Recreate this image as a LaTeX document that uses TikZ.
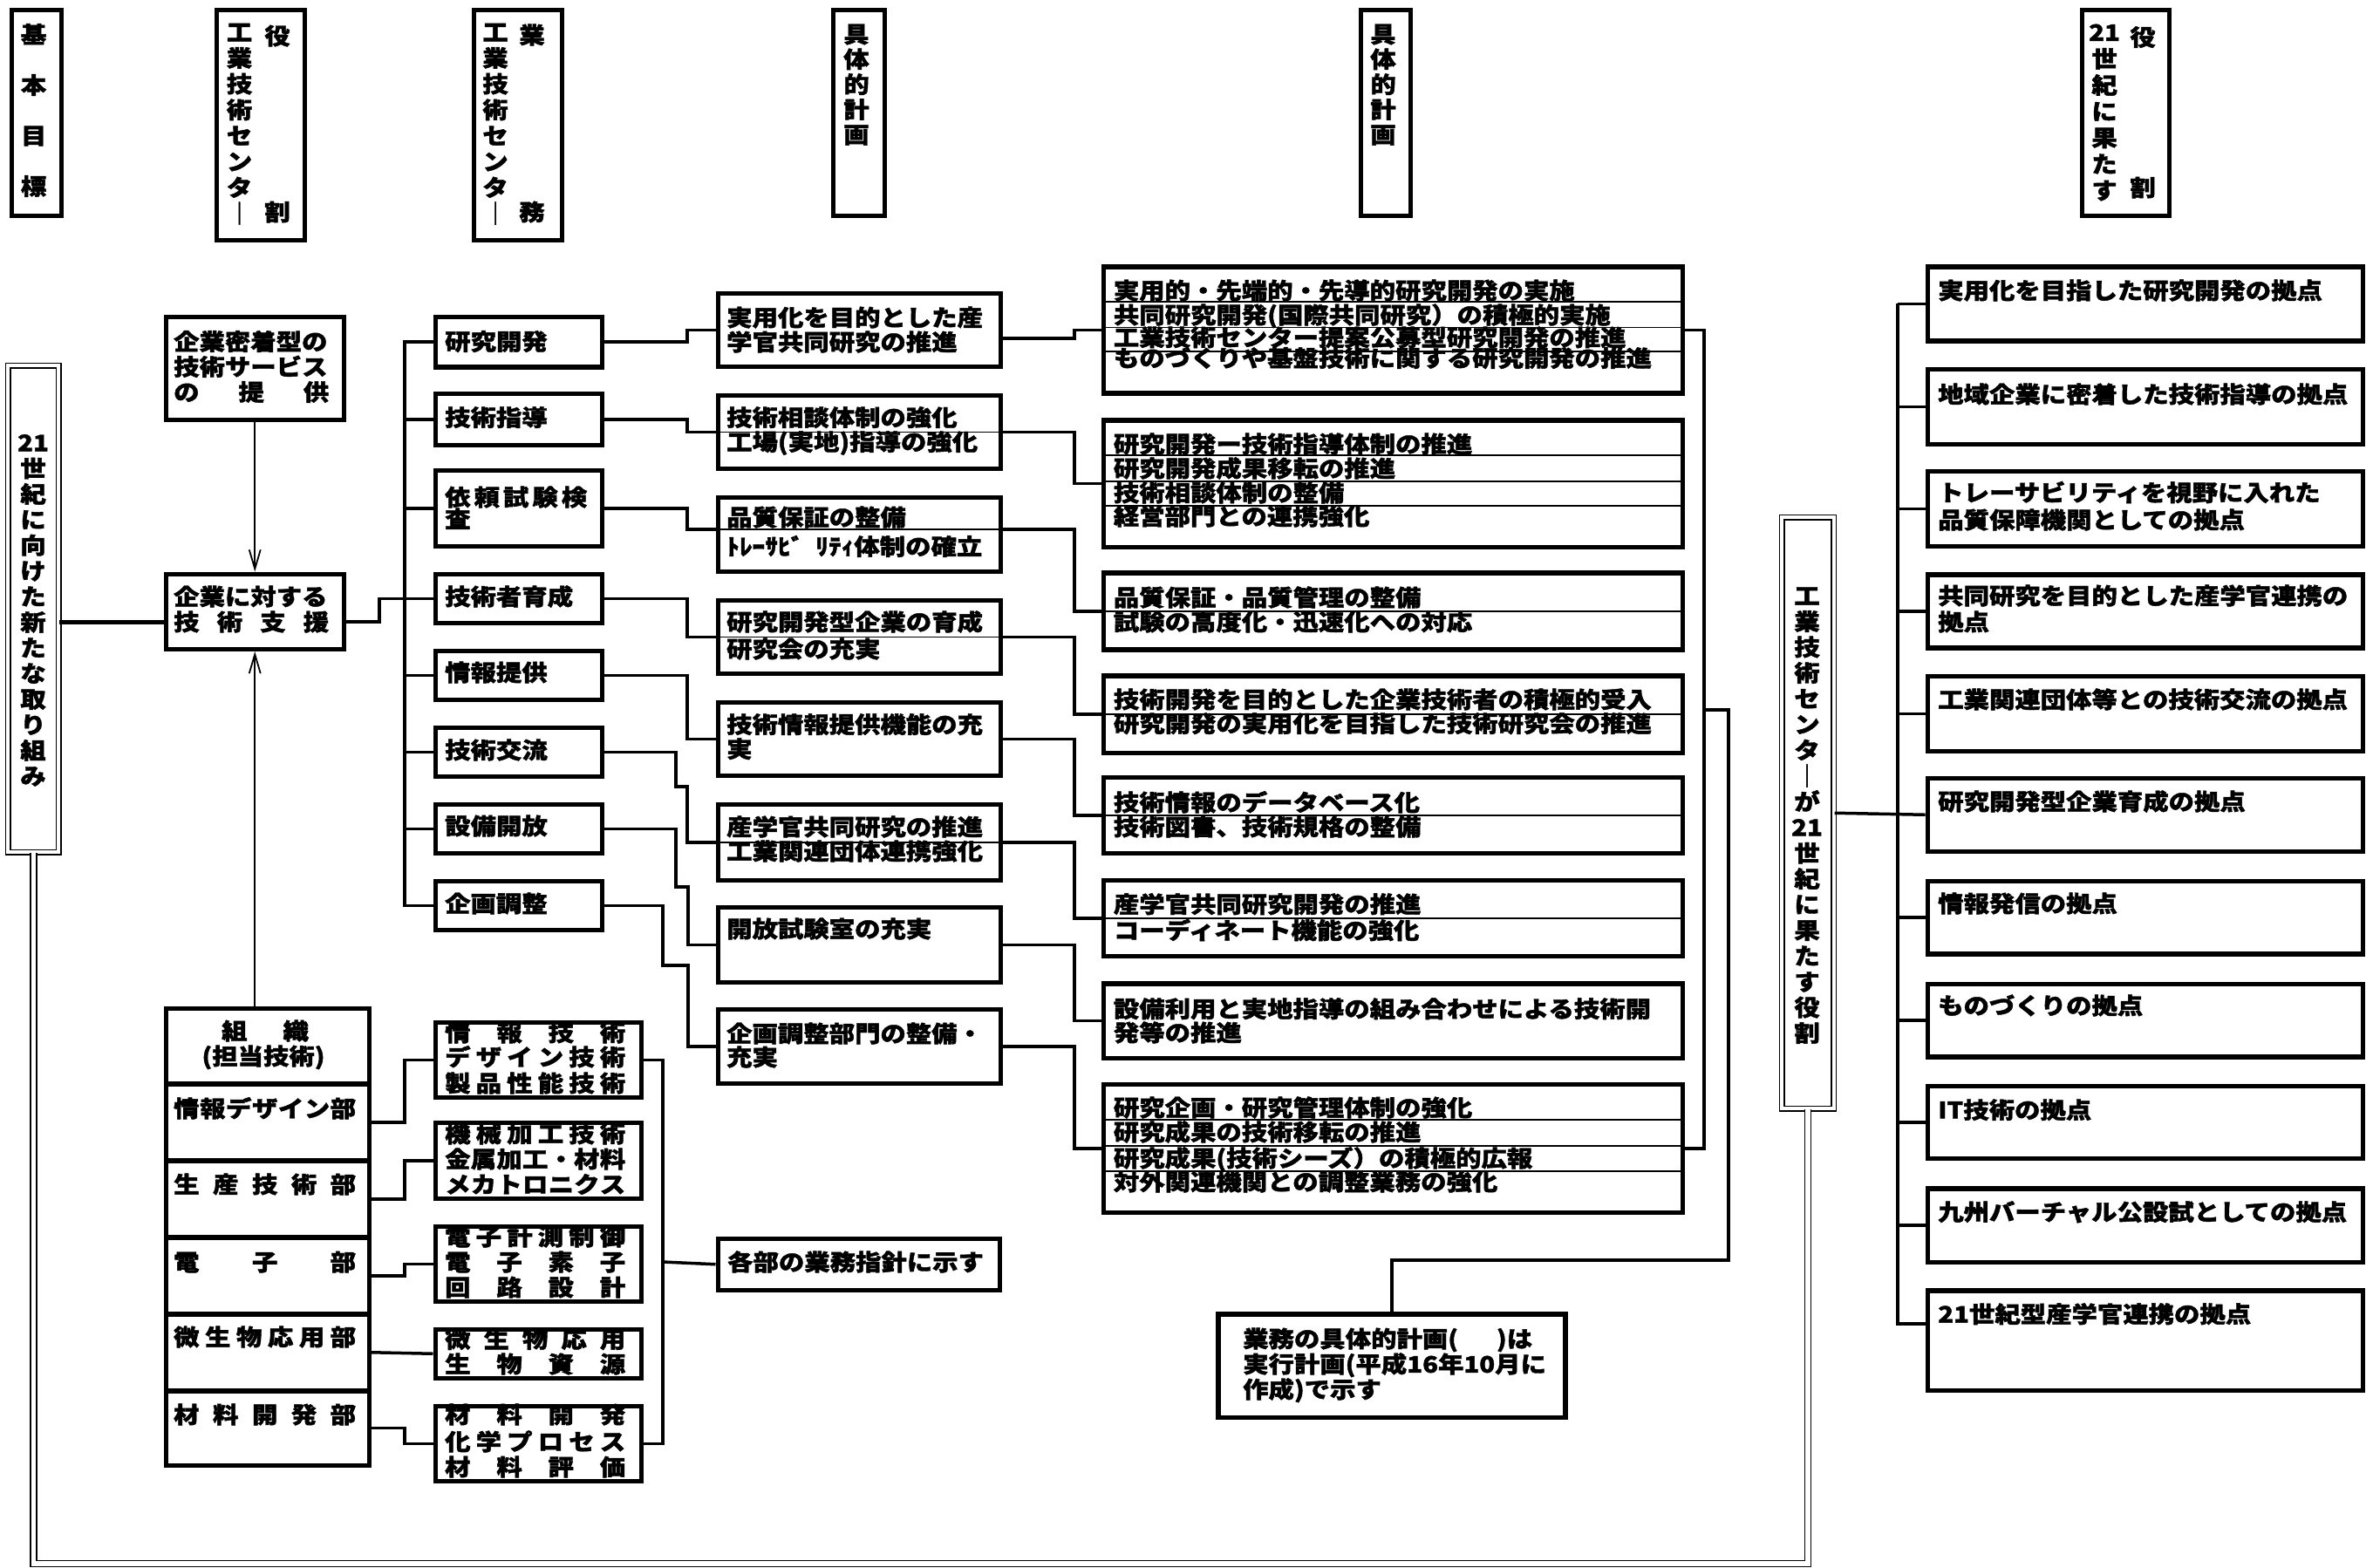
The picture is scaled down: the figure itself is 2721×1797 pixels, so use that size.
\documentclass[tikz,border=0pt]{standalone}
\usepackage{fontspec}
\usetikzlibrary{arrows.meta}
\newfontfamily\jpf{Noto Sans CJK JP}[FakeStretch=1.13,BoldFeatures={FakeBold=1.6}]
\newcommand{\jtxt}{\jpf\bfseries\fontsize{26}{29}\selectfont}
\newcommand{\sw}[2]{\makebox[#1pt][s]{#2}}
\newcommand{\bx}[6][]{%
  \pgfmathsetmacro\bxa{#3+2.5}\pgfmathsetmacro\bxb{#4+2.5}%
  \pgfmathsetmacro\bxw{#5-#3-5}\pgfmathsetmacro\bxh{#6-#4-5}%
  \node[frm,#1,minimum width=\bxw pt,minimum height=\bxh pt] (#2) at (\bxa,\bxb) {};}
\newcommand{\tx}[4]{\node[txt] (#1) at (#2,#3) {#4};}
\newcommand{\vt}[5]{\foreach \c [count=\i] in {#5} {\node[ctxt] (#1-\i) at (#2,{#3+(\i-1)*#4}) {\c};}}
\begin{document}
\begin{tikzpicture}[x=1pt,y=-1pt,
  frm/.style={draw,line width=5.5pt,inner sep=0pt,anchor=north west,rectangle},
  dframe/.style={draw,double,double distance=4pt,line width=1.5pt,inner sep=0pt,anchor=north west,rectangle},
  txt/.style={anchor=west,inner sep=0pt,font=\jtxt,text height=21.6pt,text depth=1.8pt},
  ctxt/.style={txt,anchor=center},
  conn/.style={line width=3.5pt},
  thickc/.style={line width=5pt},
  innerl/.style={line width=1.5pt},
  arr/.style={line width=1.8pt,-{Straight Barb[length=22pt,width=13pt]}},
  dbl/.style={double,double distance=5.5pt,line width=1.5pt}]
\fill[white] (0,0) rectangle (2721,1797);
\useasboundingbox (0,0) rectangle (2721,1797);

% ---------- header boxes ----------
\bx{h1}{8}{6}{70}{247}
\vt{h1t}{38.6}{39.5}{58}{基,本,目,標}
\bx{h2}{243}{6}{349}{275}
\vt{h2a}{274.5}{36.7}{29.7}{工,業,技,術,セ,ン,タ,｜}
\node[ctxt] (h2b) at (318,41) {役};
\node[ctxt] (h2c) at (318,243) {割};
\bx{h3}{538}{6}{644}{275}
\vt{h3a}{568}{36.7}{29.7}{工,業,技,術,セ,ン,タ,｜}
\node[ctxt] (h3b) at (610,40) {業};
\node[ctxt] (h3c) at (610,243) {務};
\bx{h4}{950}{6}{1014}{247}
\vt{h4t}{982}{39}{28.8}{具,体,的,計,画}
\bx{h5}{1555}{6}{1617}{247}
\vt{h5t}{1586}{39}{28.8}{具,体,的,計,画}
\bx{h6}{2382}{6}{2487}{247}
\vt{h6a}{2413}{37}{30.2}{21,世,紀,に,果,た,す}
\node[ctxt] (h6b) at (2457,42.5) {役};
\node[ctxt] (h6c) at (2457,215) {割};

% ---------- left column ----------
\bx[dframe]{L}{6}{416}{69}{979}
\vt{Lt}{38}{507.5}{29.4}{21,世,紀,に,向,け,た,新,た,な,取,り,組,み}
\bx{kd}{185}{358}{394}{481}
\tx{kd1}{199}{391.5}{\sw{178}{企業密着型の}}
\tx{kd2}{199}{420.5}{\sw{178}{技術サービス}}
\tx{kd3}{199}{449.5}{\sw{178}{の\hfill 提\hfill 供}}
\bx{ks}{185}{653}{394}{744}
\tx{ks1}{199}{684}{\sw{178}{企業に対する}}
\tx{ks2}{199}{713}{\sw{178}{技\hfill 術\hfill 支\hfill 援}}

% ---------- 業務 boxes ----------
\bx{g1}{494}{358}{690}{420.5}
\tx{g1t}{510}{391.5}{研究開発}
\bx{g2}{494}{446}{690}{510}
\tx{g2t}{510}{478.6}{技術指導}
\bx{g3}{494}{534}{690}{626}
\tx{g3t}{510}{570}{\sw{163}{依\hfill 頼\hfill 試\hfill 験\hfill 検}}
\tx{g3u}{510}{595}{査}
\bx{g4}{494}{653}{690}{714}
\tx{g4t}{510}{684}{技術者育成}
\bx{g5}{494}{741}{690}{802}
\tx{g5t}{510}{771}{情報提供}
\bx{g6}{494}{829}{690}{890}
\tx{g6t}{510}{860}{技術交流}
\bx{g7}{494}{917}{690}{978}
\tx{g7t}{510}{947}{設備開放}
\bx{g8}{494}{1005}{690}{1066}
\tx{g8t}{510}{1036}{企画調整}

% ---------- 具体的計画 (1) ----------
\bx{jA}{818}{331}{1147}{420}
\tx{jA1}{833}{364}{実用化を目的とした産}
\tx{jA2}{833}{392}{学官共同研究の推進}
\bx{jB}{818}{448}{1147}{537}
\tx{jB1}{833}{478.6}{技術相談体制の強化}
\tx{jB2}{833}{506.6}{工場(実地)指導の強化}
\bx{jC}{818}{565}{1147}{655}
\tx{jC1}{833}{593}{品質保証の整備}
\tx{jC2}{833}{626.5}{ﾄﾚｰｻﾋﾞ\hspace{14pt}ﾘﾃｨ体制の確立}
\bx{jD}{818}{683}{1147}{772}
\tx{jD1}{833}{713}{研究開発型企業の育成}
\tx{jD2}{833}{744}{研究会の充実}
\bx{jE}{818}{800}{1147}{889}
\tx{jE1}{833}{830.6}{技術情報提供機能の充}
\tx{jE2}{833}{858.7}{実}
\bx{jF}{818}{917}{1147}{1009}
\tx{jF1}{833}{948}{産学官共同研究の推進}
\tx{jF2}{833}{976}{工業関連団体連携強化}
\bx{jG}{818}{1035}{1147}{1126}
\tx{jG1}{833}{1065}{開放試験室の充実}
\bx{jH}{818}{1152}{1147}{1242}
\tx{jH1}{833}{1185}{企画調整部門の整備・}
\tx{jH2}{833}{1212}{充実}

% ---------- 具体的計画 (2) ----------
\bx{d1}{1260}{300.6}{1929}{450.8}
\tx{d1a}{1276.7}{333}{実用的・先端的・先導的研究開発の実施}
\tx{d1b}{1276.7}{361}{共同研究開発(国際共同研究）の積極的実施}
\tx{d1c}{1276.7}{386.8}{工業技術センター提案公募型研究開発の推進}
\tx{d1d}{1276.7}{410.5}{ものづくりや基盤技術に関する研究開発の推進}
\bx{d2}{1260}{476.5}{1929}{627}
\tx{d2a}{1276.7}{509}{研究開発ー技術指導体制の推進}
\tx{d2b}{1276.7}{537}{研究開発成果移転の推進}
\tx{d2c}{1276.7}{565}{技術相談体制の整備}
\tx{d2d}{1276.7}{592}{経営部門との連携強化}
\bx{d3}{1260}{651.7}{1929}{744.6}
\tx{d3a}{1276.7}{685}{品質保証・品質管理の整備}
\tx{d3b}{1276.7}{713}{試験の高度化・迅速化への対応}
\bx{d4}{1260}{769.5}{1929}{863}
\tx{d4a}{1276.7}{802}{技術開発を目的とした企業技術者の積極的受入}
\tx{d4b}{1276.7}{829.6}{研究開発の実用化を目指した技術研究会の推進}
\bx{d5}{1260}{886}{1929}{978}
\tx{d5a}{1276.7}{920}{技術情報のデータベース化}
\tx{d5b}{1276.7}{948}{技術図書、技術規格の整備}
\bx{d6}{1260}{1004}{1929}{1096}
\tx{d6a}{1276.7}{1036.7}{産学官共同研究開発の推進}
\tx{d6b}{1276.7}{1066.7}{コーディネート機能の強化}
\bx{d7}{1260}{1122.7}{1929}{1213}
\tx{d7a}{1276.7}{1156.7}{設備利用と実地指導の組み合わせによる技術開}
\tx{d7b}{1276.7}{1184}{発等の推進}
\bx{d8}{1260}{1238}{1929}{1390}
\tx{d8a}{1276.7}{1270}{研究企画・研究管理体制の強化}
\tx{d8b}{1276.7}{1298}{研究成果の技術移転の推進}
\tx{d8c}{1276.7}{1328}{研究成果(技術シーズ）の積極的広報}
\tx{d8d}{1276.7}{1355}{対外関連機関との調整業務の強化}

% ---------- note box ----------
\bx{kk}{1391.5}{1501.7}{1794.6}{1625}
\tx{kk1}{1425}{1535}{業務の具体的計画(\hspace{44pt})は}
\tx{kk2}{1425}{1564}{実行計画(平成16年10月に}
\tx{kk3}{1425}{1593}{作成)で示す}

% ---------- right column ----------
\bx[dframe]{R}{2040}{590}{2104.7}{1273}
\vt{Rt}{2072}{683}{29.5}{工,業,技,術,セ,ン,タ,｜,が,21,世,紀,に,果,た,す,役,割}
\bx{r1}{2205}{300.6}{2709}{390.7}
\tx{r1t}{2222}{333}{実用化を目指した研究開発の拠点}
\bx{r2}{2205}{418}{2709}{509}
\tx{r2t}{2222}{452}{地域企業に密着した技術指導の拠点}
\bx{r3}{2205}{535}{2709}{626}
\tx{r3a}{2222}{564.7}{トレーサビリティを視野に入れた}
\tx{r3b}{2222}{596}{品質保障機関としての拠点}
\bx{r4}{2205}{653.7}{2709}{742.6}
\tx{r4a}{2222}{683}{共同研究を目的とした産学官連携の}
\tx{r4b}{2222}{713}{拠点}
\bx{r5}{2205}{770}{2709}{861}
\tx{r5t}{2222}{802}{工業関連団体等との技術交流の拠点}
\bx{r6}{2205}{887}{2709}{976}
\tx{r6t}{2222}{919}{研究開発型企業育成の拠点}
\bx{r7}{2205}{1005}{2709}{1093.5}
\tx{r7t}{2222}{1036}{情報発信の拠点}
\bx{r8}{2205}{1123}{2709}{1211.5}
\tx{r8t}{2222}{1153}{ものづくりの拠点}
\bx{r9}{2205}{1240}{2709}{1328}
\tx{r9t}{2222}{1272.6}{IT技術の拠点}
\bx{r10}{2205}{1357.5}{2709}{1447}
\tx{r10t}{2222}{1389.6}{九州バーチャル公設試としての拠点}
\bx{r11}{2205}{1474.6}{2709}{1594}
\tx{r11t}{2222}{1506.7}{21世紀型産学官連携の拠点}

% ---------- organisation ----------
\bx{o0}{185}{1151}{423}{1242.5}
\node[ctxt] (o0a) at (304,1182) {組\hspace{41pt}織};
\node[ctxt] (o0b) at (302,1211) {(担当技術)};
\bx{o1}{185}{1237.5}{423}{1330.5}
\tx{o1t}{199}{1271}{\sw{209}{情\hfill 報\hfill デ\hfill ザ\hfill イ\hfill ン\hfill 部}}
\bx{o2}{185}{1325.5}{423}{1418.5}
\tx{o2t}{199}{1358}{\sw{209}{生\hfill 産\hfill 技\hfill 術\hfill 部}}
\bx{o3}{185}{1413.5}{423}{1506.5}
\tx{o3t}{199}{1447}{\sw{209}{電\hfill 子\hfill 部}}
\bx{o4}{185}{1501.5}{423}{1594.5}
\tx{o4t}{199}{1533}{\sw{209}{微\hfill 生\hfill 物\hfill 応\hfill 用\hfill 部}}
\bx{o5}{185}{1589.5}{423}{1680}
\tx{o5t}{199}{1622}{\sw{209}{材\hfill 料\hfill 開\hfill 発\hfill 部}}

\bx{s1}{494}{1167}{735}{1258}
\tx{s1a}{510}{1184}{\sw{207}{情\hfill 報\hfill 技\hfill 術}}
\tx{s1b}{510}{1212}{\sw{207}{デ\hfill ザ\hfill イ\hfill ン\hfill 技\hfill 術}}
\tx{s1c}{510}{1242}{\sw{207}{製\hfill 品\hfill 性\hfill 能\hfill 技\hfill 術}}
\bx{s2}{494}{1282}{735}{1374}
\tx{s2a}{510}{1300}{\sw{207}{機\hfill 械\hfill 加\hfill 工\hfill 技\hfill 術}}
\tx{s2b}{510}{1329}{\sw{207}{金\hfill 属\hfill 加\hfill 工\hfill ・\hfill 材\hfill 料}}
\tx{s2c}{510}{1358}{\sw{207}{メ\hfill カ\hfill ト\hfill ロ\hfill ニ\hfill ク\hfill ス}}
\bx{s3}{494}{1401}{735}{1492}
\tx{s3a}{510}{1418}{\sw{207}{電\hfill 子\hfill 計\hfill 測\hfill 制\hfill 御}}
\tx{s3b}{510}{1447}{\sw{207}{電\hfill 子\hfill 素\hfill 子}}
\tx{s3c}{510}{1476}{\sw{207}{回\hfill 路\hfill 設\hfill 計}}
\bx{s4}{494}{1519}{735}{1580}
\tx{s4a}{510}{1535.6}{\sw{207}{微\hfill 生\hfill 物\hfill 応\hfill 用}}
\tx{s4b}{510}{1564}{\sw{207}{生\hfill 物\hfill 資\hfill 源}}
\bx{s5}{494}{1607}{735}{1698}
\tx{s5a}{510}{1622}{\sw{207}{材\hfill 料\hfill 開\hfill 発}}
\tx{s5b}{510}{1653}{\sw{207}{化\hfill 学\hfill プ\hfill ロ\hfill セ\hfill ス}}
\tx{s5c}{510}{1682}{\sw{207}{材\hfill 料\hfill 評\hfill 価}}

\bx{kb}{818}{1415}{1146}{1479}
\tx{kbt}{834}{1447}{各部の業務指針に示す}

% ---------- connectors ----------
\draw[thickc] (L.east |- 0,713) -- (ks.west |- 0,713);
\draw[conn] (ks.east |- 0,713) -- (435,713) |- (g4.west);
\draw[conn] (g1.west) -- (g1.west -| 464,0) -- (g8.west -| 464,0) -- (g8.west);
\foreach \g in {g2,g3,g5,g6,g7} \draw[conn] (\g.west -| 464,0) -- (\g.west);
\draw[arr] (kd.south) -- (ks.north);
\draw[arr] (ks.south |- o0.north) -- (ks.south);

\draw[conn] (g1.east) -- (g1.east -| 788,0) |- (jA.west);
\draw[conn] (g2.east) -- (g2.east -| 788,0) |- (jB.west);
\draw[conn] (g3.east) -- (g3.east -| 788,0) |- (jC.west |- 0,607);
\draw[conn] (g4.east) -- (g4.east -| 788,0) |- (jD.west);
\draw[conn] (g5.east) -- (g5.east -| 788,0) |- (jE.west);
\draw[conn] (g6.east) -- (g6.east -| 775,0) -- (775,902) -- (788,902) |- (jF.west);
\draw[conn] (g7.east) -- (g7.east -| 775,0) -- (775,1017) -- (789,1017) |- (jG.west);
\draw[conn] (g8.east) -- (g8.east -| 760,0) -- (760,1107) -- (789,1107) |- (jH.west);

\draw[conn] (jA.east |- 0,388) -- (1232,388) |- (d1.west);
\draw[conn] (jB.east) -- (jB.east -| 1232,0) |- (d2.west);
\draw[conn] (jC.east |- 0,607) -- (1232,607) |- (d3.west);
\draw[conn] (jD.east) -- (jD.east -| 1232,0) |- (d4.west);
\draw[conn] (jE.east) -- (jE.east -| 1232,0) |- (d5.west);
\draw[conn] (jF.east) -- (jF.east -| 1232,0) |- (d6.west);
\draw[conn] (jG.east) -- (jG.east -| 1232,0) |- (d7.west);
\draw[conn] (jH.east) -- (jH.east -| 1232,0) |- (d8.west);

% lines passing through boxes
\draw[innerl] (jB.west) -- (jB.east);
\draw[innerl] (jC.west |- 0,607) -- (jC.east |- 0,607);
\draw[innerl] (jD.west) -- (jD.east);
\draw[innerl] (jF.west) -- (jF.east);
\foreach \yy in {346,375.7,403} \draw[innerl] (d1.west |- 0,\yy) -- (d1.east |- 0,\yy);
\foreach \yy in {522,551.75,580} \draw[innerl] (d2.west |- 0,\yy) -- (d2.east |- 0,\yy);
\foreach \dd in {d3,d4,d5,d6} \draw[innerl] (\dd.west) -- (\dd.east);
\foreach \yy in {1284,1314,1343} \draw[innerl] (d8.west |- 0,\yy) -- (d8.east |- 0,\yy);

\draw[conn] (d1.east) -- (d1.east -| 1954,0) -- (d8.east -| 1954,0) -- (d8.east);
\draw[conn] (1954,814) -- (1982,814) -- (1982,1445) -| (kk.north);

\draw[conn] (R.east) -- (r6.west);
\draw[conn] (r1.west -| 2176,0) -- (2176,1518) -- (r11.west |- 0,1518);
\foreach \r in {r1,r2,r3,r4,r5,r7,r8,r9,r10} \draw[conn] (\r.west -| 2176,0) -- (\r.west);

\draw[conn] (o1.east) -- (o1.east -| 464,0) |- (s1.west);
\draw[conn] (o2.east) -- (o2.east -| 464,0) |- (s2.west);
\draw[conn] (o3.east) -- (o3.east -| 464,0) |- (s3.west);
\draw[conn] (o4.east) -- (s4.west);
\draw[conn] (o5.east) -- (o5.east -| 464,0) |- (s5.west);
\draw[conn] (s1.east) -- (s1.east -| 760,0) -- (s5.east -| 760,0) -- (s5.east);
\draw[conn] (760,1447) -- (kb.west);

\draw[dbl] (L.south) -- (L.south |- 0,1793) -| (R.south);
\end{tikzpicture}
\end{document}
